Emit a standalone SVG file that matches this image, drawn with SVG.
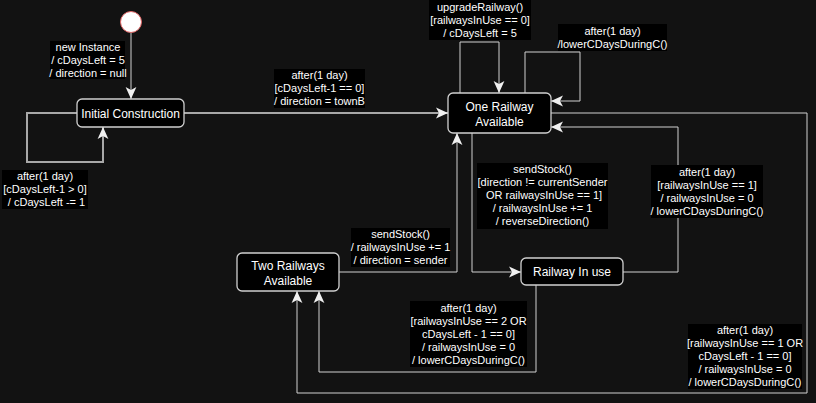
<svg xmlns="http://www.w3.org/2000/svg" width="816" height="403" viewBox="0 0 816 403">
<defs>
<style>
.node rect{fill:#000;stroke:#d0d0d0;stroke-width:1.3}
.node text{fill:#fff;font-family:"Liberation Sans",Arial,sans-serif;font-size:12px;text-anchor:middle}
.edge{fill:none;stroke:#d0d0d0;stroke-width:1}
.edge.thick{stroke:#a8a8a8;stroke-width:2}
.lbl rect{fill:#000}
.lbl text{fill:#fff;font-family:"Liberation Sans",Arial,sans-serif;font-size:11px;text-anchor:middle;white-space:pre}
</style>
<marker id="arr" markerUnits="userSpaceOnUse" markerWidth="12" markerHeight="12" viewBox="0 0 10 10" refX="10" refY="5" orient="auto">
<path d="M0,0.5 L10,5 L0,9.5 L2.5,5 Z" fill="#f0f0f0"/>
</marker>
</defs>
<rect x="0" y="0" width="816" height="403" fill="#121212"/>

<g id="connectors">
<path class="edge" d="M131,33 V99" marker-end="url(#arr)"/>
<path class="edge thick" d="M77,113 H27 V162 H103 V127" marker-end="url(#arr)"/>
<path class="edge thick" d="M184,113 H448" marker-end="url(#arr)"/>
<path class="edge" d="M460,93 V42 H499 V93" marker-end="url(#arr)"/>
<path class="edge" d="M525,93 V52 H580 V101 H551" marker-end="url(#arr)"/>
<path class="edge" d="M472,133 V272 H521" marker-end="url(#arr)"/>
<path class="edge" d="M623,272 H678 V127 H551" marker-end="url(#arr)"/>
<path class="edge" d="M339,272 H457 V133" marker-end="url(#arr)"/>
<path class="edge" d="M536,285 V372 H319 V291" marker-end="url(#arr)"/>
<path class="edge" d="M551,113 H807 V393 H297 V291" marker-end="url(#arr)"/>

<g class="lbl">
<rect x="50" y="41" width="75" height="38"/>
<text x="88" y="51">new Instance</text>
<text x="88" y="64">/ cDaysLeft = 5</text>
<text x="88" y="77">/ direction = null</text>
</g>
<g class="lbl">
<rect x="2" y="170" width="86" height="39"/>
<text x="45" y="180">after(1 day)</text>
<text x="45" y="193">[cDaysLeft-1 &gt; 0]</text>
<text x="45" y="206"> / cDaysLeft -= 1</text>
</g>
<g class="lbl">
<rect x="274" y="69" width="91" height="39"/>
<text x="319.5" y="79">after(1 day)</text>
<text x="319.5" y="92">[cDaysLeft-1 == 0]</text>
<text x="319.5" y="105">/ direction = townB</text>
</g>
<g class="lbl">
<rect x="429" y="0" width="102" height="40"/>
<text x="480" y="11">upgradeRailway()</text>
<text x="480" y="24">[railwaysInUse == 0]</text>
<text x="480" y="37">/ cDaysLeft = 5</text>
</g>
<g class="lbl">
<rect x="558" y="24" width="109" height="27"/>
<text x="612.5" y="35">after(1 day)</text>
<text x="612.5" y="48">/lowerCDaysDuringC()</text>
</g>
<g class="lbl">
<rect x="477" y="163" width="131" height="66"/>
<text x="542.5" y="173">sendStock()</text>
<text x="542.5" y="186">[direction != currentSender</text>
<text x="542.5" y="199"> OR railwaysInUse == 1]</text>
<text x="542.5" y="212">/ railwaysInUse += 1</text>
<text x="542.5" y="225">/ reverseDirection()</text>
</g>
<g class="lbl">
<rect x="651" y="165" width="112" height="53"/>
<text x="707" y="176">after(1 day)</text>
<text x="707" y="189">[railwaysInUse == 1]</text>
<text x="707" y="202">/ railwaysInUse = 0</text>
<text x="707" y="215">/ lowerCDaysDuringC()</text>
</g>
<g class="lbl">
<rect x="351" y="228" width="99" height="39"/>
<text x="400.5" y="238">sendStock()</text>
<text x="400.5" y="251">/ railwaysInUse += 1</text>
<text x="400.5" y="264">/ direction = sender</text>
</g>
<g class="lbl">
<rect x="410" y="301" width="117" height="66"/>
<text x="468.5" y="312">after(1 day)</text>
<text x="468.5" y="325">[railwaysInUse == 2 OR</text>
<text x="468.5" y="338">cDaysLeft - 1 == 0]</text>
<text x="468.5" y="351">/ railwaysInUse = 0</text>
<text x="468.5" y="364">/ lowerCDaysDuringC()</text>
</g>
<g class="lbl">
<rect x="688" y="324" width="114" height="65"/>
<text x="745" y="334">after(1 day)</text>
<text x="745" y="347">[railwaysInUse == 1 OR</text>
<text x="745" y="360">cDaysLeft - 1 == 0]</text>
<text x="745" y="373">/ railwaysInUse = 0</text>
<text x="745" y="386">/ lowerCDaysDuringC()</text>
</g>
</g>

<g id="start">
<circle cx="131" cy="22" r="10.5" fill="#ffffff" stroke="#e06666" stroke-width="1"/>
</g>
<g id="initialConstruction" class="node">
<rect x="77" y="99" width="107" height="28" rx="5"/>
<text x="130.5" y="117.5">Initial Construction</text>
</g>
<g id="oneRailway" class="node">
<rect x="448" y="93" width="103" height="40" rx="5"/>
<text x="499.5" y="111">One Railway</text>
<text x="499.5" y="126">Available</text>
</g>
<g id="railwayInUse" class="node">
<rect x="521" y="258" width="102" height="27" rx="5"/>
<text x="572" y="276">Railway In use</text>
</g>
<g id="twoRailways" class="node">
<rect x="237" y="253" width="102" height="38" rx="5"/>
<text x="288" y="270">Two Railways</text>
<text x="288" y="285">Available</text>
</g>
</svg>
